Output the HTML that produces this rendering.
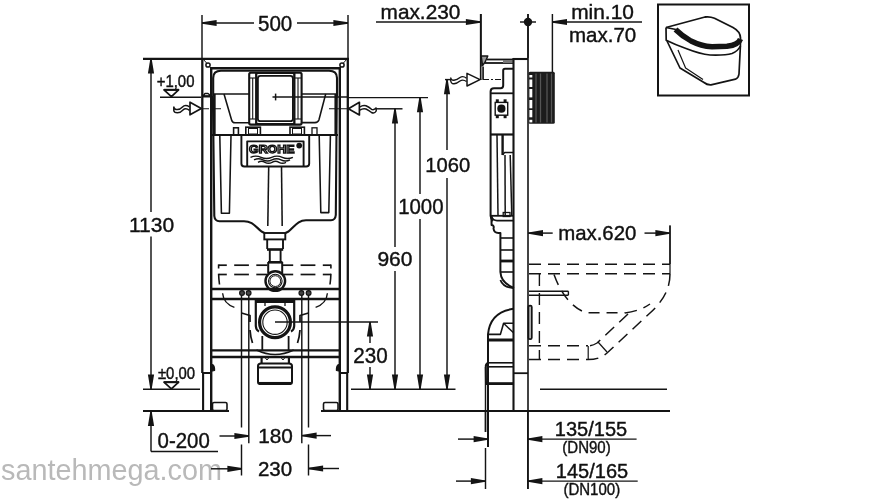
<!DOCTYPE html>
<html><head><meta charset="utf-8"><style>
html,body{margin:0;padding:0;background:#fff;width:880px;height:500px;overflow:hidden}
svg{display:block;will-change:transform}
text{font-family:"Liberation Sans",sans-serif}
</style></head><body>
<svg width="880" height="500" viewBox="0 0 880 500">
<rect width="880" height="500" fill="#fff"/>
<text x="1" y="479.8" font-size="28.8" text-anchor="start" fill="#b9b9b9" >santehmega.com</text>
<line x1="202" y1="15" x2="202" y2="59" stroke="#141414" stroke-width="1.45" />
<line x1="348" y1="15" x2="348" y2="59" stroke="#141414" stroke-width="1.45" />
<line x1="202" y1="23" x2="254" y2="23" stroke="#141414" stroke-width="1.45" />
<line x1="297" y1="23" x2="348" y2="23" stroke="#141414" stroke-width="1.45" />
<polygon points="202,22.3 216.6,19.9 216.6,26.1 202,23.7" fill="#141414"/>
<polygon points="348,22.3 333.4,19.9 333.4,26.1 348,23.7" fill="#141414"/>
<text transform="translate(275.1,31.1) scale(0.935,1)" x="0" y="0" font-size="22" text-anchor="middle" fill="#111"  stroke="#111" stroke-width="0.4">500</text>
<line x1="143" y1="58.8" x2="349" y2="58.8" stroke="#141414" stroke-width="2.2" />
<line x1="202.3" y1="58" x2="202.3" y2="373" stroke="#141414" stroke-width="2.3" />
<line x1="347.8" y1="58" x2="347.8" y2="373" stroke="#141414" stroke-width="2.3" />
<line x1="203.1" y1="373" x2="203.1" y2="411" stroke="#141414" stroke-width="2.1" />
<line x1="347.2" y1="373" x2="347.2" y2="411" stroke="#141414" stroke-width="2.1" />
<line x1="210" y1="68.2" x2="341" y2="68.2" stroke="#141414" stroke-width="2.4" />
<line x1="211.2" y1="67" x2="211.2" y2="411" stroke="#141414" stroke-width="2.4" />
<line x1="339.8" y1="67" x2="339.8" y2="411" stroke="#141414" stroke-width="2.4" />
<line x1="202" y1="373" x2="211" y2="373" stroke="#141414" stroke-width="2" />
<line x1="340" y1="373" x2="348" y2="373" stroke="#141414" stroke-width="2" />
<path d="M212.4,364.5 Q214.8,365.5 214.6,370.5 L212.4,371 Z" stroke="#141414" stroke-width="1.2" fill="#141414" stroke-linejoin="round" />
<path d="M338.6,364.5 Q336.2,365.5 336.4,370.5 L338.6,371 Z" stroke="#141414" stroke-width="1.2" fill="#141414" stroke-linejoin="round" />
<line x1="203" y1="59" x2="207" y2="63.5" stroke="#141414" stroke-width="1" />
<circle cx="208" cy="65" r="2.1" stroke="#141414" stroke-width="1.5" fill="none"/>
<line x1="347" y1="59" x2="343" y2="63.5" stroke="#141414" stroke-width="1" />
<circle cx="342" cy="65" r="2.1" stroke="#141414" stroke-width="1.5" fill="none"/>
<rect x="212.5" y="402.5" width="14.5" height="8" rx="1.5" stroke="#141414" stroke-width="1.6" fill="none"/>
<rect x="323.5" y="402.5" width="14.5" height="8" rx="1.5" stroke="#141414" stroke-width="1.6" fill="none"/>
<line x1="143" y1="411" x2="229" y2="411" stroke="#141414" stroke-width="2.2" />
<line x1="321" y1="411" x2="670" y2="411" stroke="#141414" stroke-width="2.2" />
<line x1="211" y1="289" x2="340" y2="289" stroke="#141414" stroke-width="2.3" />
<line x1="211" y1="299" x2="340" y2="299" stroke="#141414" stroke-width="2.3" />
<line x1="211" y1="350.3" x2="340" y2="350.3" stroke="#141414" stroke-width="2.3" />
<line x1="211" y1="357" x2="340" y2="357" stroke="#141414" stroke-width="2.3" />
<line x1="151" y1="59" x2="151" y2="212" stroke="#141414" stroke-width="1.45" />
<line x1="151" y1="236.5" x2="151" y2="389" stroke="#141414" stroke-width="1.45" />
<polygon points="150.3,59 147.9,73.6 154.1,73.6 151.7,59" fill="#141414"/>
<polygon points="150.3,389 147.9,374.4 154.1,374.4 151.7,389" fill="#141414"/>
<text x="151.5" y="231.7" font-size="21" text-anchor="middle" fill="#111"  stroke="#111" stroke-width="0.4">1130</text>
<text transform="translate(175.6,86.8) scale(0.95,1)" x="0" y="0" font-size="15.7" text-anchor="middle" fill="#111"  stroke="#111" stroke-width="0.4">+1,00</text>
<polygon points="164,89.8 178.6,89.8 171.4,96.6" stroke="#141414" stroke-width="1.8" fill="none" stroke-linejoin="round" />
<line x1="164" y1="89.8" x2="179" y2="89.8" stroke="#141414" stroke-width="2" />
<line x1="160" y1="97.2" x2="201" y2="97.2" stroke="#141414" stroke-width="1.45" />
<text transform="translate(176.5,379) scale(0.95,1)" x="0" y="0" font-size="15.7" text-anchor="middle" fill="#111"  stroke="#111" stroke-width="0.4">±0,00</text>
<polygon points="164,382.2 178.6,382.2 171.4,388.8" stroke="#141414" stroke-width="1.8" fill="none" stroke-linejoin="round" />
<line x1="164" y1="382.2" x2="179" y2="382.2" stroke="#141414" stroke-width="2" />
<line x1="143" y1="389.2" x2="200" y2="389.2" stroke="#141414" stroke-width="1.45" />
<polygon points="150.3,411.5 147.9,426.1 154.1,426.1 151.7,411.5" fill="#141414"/>
<line x1="151" y1="411" x2="151" y2="451.5" stroke="#141414" stroke-width="1.45" />
<line x1="151" y1="451.5" x2="218" y2="451.5" stroke="#141414" stroke-width="1.45" />
<text transform="translate(183.65,448.3) scale(0.955,1)" x="0" y="0" font-size="21.4" text-anchor="middle" fill="#111"  stroke="#111" stroke-width="0.4">0-200</text>
<line x1="219.5" y1="436" x2="249" y2="436" stroke="#141414" stroke-width="1.45" />
<polygon points="249,435.3 234.4,432.9 234.4,439.1 249,436.7" fill="#141414"/>
<line x1="211" y1="468.8" x2="242" y2="468.8" stroke="#141414" stroke-width="1.45" />
<polygon points="242,468.1 227.4,465.7 227.4,471.90000000000003 242,469.5" fill="#141414"/>
<line x1="241.5" y1="293" x2="241.5" y2="427.5" stroke="#141414" stroke-width="1.45" />
<line x1="241.5" y1="444.5" x2="241.5" y2="475.5" stroke="#141414" stroke-width="1.45" />
<line x1="248.8" y1="293" x2="248.8" y2="443.3" stroke="#141414" stroke-width="1.45" />
<line x1="301.8" y1="293" x2="301.8" y2="443.3" stroke="#141414" stroke-width="1.45" />
<line x1="308.5" y1="293" x2="308.5" y2="427.5" stroke="#141414" stroke-width="1.45" />
<line x1="308.5" y1="444.5" x2="308.5" y2="475.5" stroke="#141414" stroke-width="1.45" />
<line x1="302" y1="435.6" x2="331" y2="435.6" stroke="#141414" stroke-width="1.45" />
<polygon points="302,434.90000000000003 316.6,432.5 316.6,438.70000000000005 302,436.3" fill="#141414"/>
<line x1="308.5" y1="468.5" x2="339" y2="468.5" stroke="#141414" stroke-width="1.45" />
<polygon points="308.5,467.8 323.1,465.4 323.1,471.6 308.5,469.2" fill="#141414"/>
<text x="275.6" y="443" font-size="20.8" text-anchor="middle" fill="#111"  stroke="#111" stroke-width="0.4">180</text>
<text x="275" y="476.4" font-size="20.5" text-anchor="middle" fill="#111"  stroke="#111" stroke-width="0.4">230</text>
<line x1="275" y1="322" x2="378" y2="322" stroke="#141414" stroke-width="1.45" />
<line x1="370" y1="322" x2="370" y2="343" stroke="#141414" stroke-width="1.45" />
<line x1="370" y1="367" x2="370" y2="389" stroke="#141414" stroke-width="1.45" />
<polygon points="369.3,322 366.9,336.6 373.1,336.6 370.7,322" fill="#141414"/>
<polygon points="369.3,389 366.9,374.4 373.1,374.4 370.7,389" fill="#141414"/>
<text transform="translate(370.45,363.4) scale(0.96,1)" x="0" y="0" font-size="21.5" text-anchor="middle" fill="#111"  stroke="#111" stroke-width="0.4">230</text>
<line x1="376.5" y1="108.8" x2="402.5" y2="108.8" stroke="#141414" stroke-width="1.45" />
<line x1="395" y1="108.8" x2="395" y2="247" stroke="#141414" stroke-width="1.45" />
<line x1="395" y1="271" x2="395" y2="389" stroke="#141414" stroke-width="1.45" />
<polygon points="394.3,108.8 391.9,123.39999999999999 398.1,123.39999999999999 395.7,108.8" fill="#141414"/>
<polygon points="394.3,389 391.9,374.4 398.1,374.4 395.7,389" fill="#141414"/>
<text x="394.9" y="265.9" font-size="21" text-anchor="middle" fill="#111"  stroke="#111" stroke-width="0.4">960</text>
<line x1="348" y1="97.6" x2="428" y2="97.6" stroke="#141414" stroke-width="1.45" />
<line x1="420" y1="97.6" x2="420" y2="194" stroke="#141414" stroke-width="1.45" />
<line x1="420" y1="219" x2="420" y2="389" stroke="#141414" stroke-width="1.45" />
<polygon points="419.3,97.6 416.9,112.19999999999999 423.1,112.19999999999999 420.7,97.6" fill="#141414"/>
<polygon points="419.3,389 416.9,374.4 423.1,374.4 420.7,389" fill="#141414"/>
<text transform="translate(420.85,213.9) scale(0.95,1)" x="0" y="0" font-size="21.5" text-anchor="middle" fill="#111"  stroke="#111" stroke-width="0.4">1000</text>
<line x1="445" y1="79.6" x2="451" y2="79.6" stroke="#141414" stroke-width="1.45" />
<line x1="447" y1="79.6" x2="447" y2="150" stroke="#141414" stroke-width="1.45" />
<line x1="447" y1="178" x2="447" y2="389" stroke="#141414" stroke-width="1.45" />
<polygon points="446.3,79.6 443.9,94.19999999999999 450.1,94.19999999999999 447.7,79.6" fill="#141414"/>
<polygon points="446.3,389 443.9,374.4 450.1,374.4 447.7,389" fill="#141414"/>
<text transform="translate(447.75,172.4) scale(0.96,1)" x="0" y="0" font-size="21" text-anchor="middle" fill="#111"  stroke="#111" stroke-width="0.4">1060</text>
<line x1="351" y1="389.2" x2="455.5" y2="389.2" stroke="#141414" stroke-width="1.45" />
<line x1="540" y1="389.2" x2="667" y2="389.2" stroke="#141414" stroke-width="1.45" />
<line x1="376" y1="22" x2="480" y2="22" stroke="#141414" stroke-width="1.45" />
<polygon points="480.5,21.3 465.9,18.9 465.9,25.1 480.5,22.7" fill="#141414"/>
<line x1="480.8" y1="14" x2="480.8" y2="80" stroke="#141414" stroke-width="1.45" />
<text x="420.45" y="19.2" font-size="20.8" text-anchor="middle" fill="#111"  stroke="#111" stroke-width="0.4">max.230</text>
<line x1="528" y1="14" x2="528" y2="58" stroke="#141414" stroke-width="1.45" />
<line x1="520" y1="22" x2="536" y2="22" stroke="#141414" stroke-width="1.45" />
<circle cx="528" cy="22" r="4.2" stroke="#141414" stroke-width="0" fill="#141414"/>
<line x1="552.4" y1="14" x2="552.4" y2="72" stroke="#141414" stroke-width="1.45" />
<line x1="552.4" y1="22" x2="642" y2="22" stroke="#141414" stroke-width="1.45" />
<polygon points="552.4,21.3 567.0,18.9 567.0,25.1 552.4,22.7" fill="#141414"/>
<text transform="translate(602.55,18.9) scale(1.03,1)" x="0" y="0" font-size="20.3" text-anchor="middle" fill="#111"  stroke="#111" stroke-width="0.4">min.10</text>
<text x="602.6" y="41.5" font-size="20.5" text-anchor="middle" fill="#111"  stroke="#111" stroke-width="0.4">max.70</text>
<line x1="528" y1="233.1" x2="552.7" y2="233.1" stroke="#141414" stroke-width="1.45" />
<polygon points="528.4,232.4 543.0,230.0 543.0,236.2 528.4,233.79999999999998" fill="#141414"/>
<line x1="644.5" y1="233.1" x2="670" y2="233.1" stroke="#141414" stroke-width="1.45" />
<polygon points="670,232.4 655.4,230.0 655.4,236.2 670,233.79999999999998" fill="#141414"/>
<line x1="670" y1="225.5" x2="670" y2="264" stroke="#141414" stroke-width="1.45" />
<text transform="translate(597.25,240.4) scale(1.015,1)" x="0" y="0" font-size="20.1" text-anchor="middle" fill="#111"  stroke="#111" stroke-width="0.4">max.620</text>
<line x1="485.5" y1="411" x2="485.5" y2="432" stroke="#141414" stroke-width="1.45" />
<line x1="488.2" y1="411" x2="488.2" y2="447" stroke="#141414" stroke-width="1.45" />
<line x1="485.5" y1="448" x2="485.5" y2="489" stroke="#141414" stroke-width="1.45" />
<line x1="527.8" y1="411" x2="527.8" y2="489" stroke="#141414" stroke-width="1.45" />
<line x1="458" y1="439.1" x2="488" y2="439.1" stroke="#141414" stroke-width="1.45" />
<polygon points="488.2,438.40000000000003 473.59999999999997,436.0 473.59999999999997,442.20000000000005 488.2,439.8" fill="#141414"/>
<line x1="528" y1="439.1" x2="636.6" y2="439.1" stroke="#141414" stroke-width="1.45" />
<polygon points="527.8,438.40000000000003 542.4,436.0 542.4,442.20000000000005 527.8,439.8" fill="#141414"/>
<line x1="456" y1="481.1" x2="485.5" y2="481.1" stroke="#141414" stroke-width="1.45" />
<polygon points="485.5,480.40000000000003 470.9,478.0 470.9,484.20000000000005 485.5,481.8" fill="#141414"/>
<line x1="528" y1="481.1" x2="637.7" y2="481.1" stroke="#141414" stroke-width="1.45" />
<polygon points="527.8,480.40000000000003 542.4,478.0 542.4,484.20000000000005 527.8,481.8" fill="#141414"/>
<text x="591" y="435.7" font-size="20" text-anchor="middle" fill="#111"  stroke="#111" stroke-width="0.4">135/155</text>
<text transform="translate(586.5,453.1) scale(0.87,1)" x="0" y="0" font-size="17.3" text-anchor="middle" fill="#111"  stroke="#111" stroke-width="0.4">(DN90)</text>
<text x="592" y="477.7" font-size="20" text-anchor="middle" fill="#111"  stroke="#111" stroke-width="0.4">145/165</text>
<text transform="translate(591.8,495.1) scale(0.87,1)" x="0" y="0" font-size="17.3" text-anchor="middle" fill="#111"  stroke="#111" stroke-width="0.4">(DN100)</text>
<rect x="658" y="4.5" width="91" height="91" rx="0" stroke="#141414" stroke-width="2" fill="none"/>
<path d="M213.2,96 L213.2,78 Q213.2,70.8 221,70.8 L329,70.8 Q337,70.8 337,78 L337,96" stroke="#141414" stroke-width="2.1" fill="none" stroke-linejoin="round" />
<path d="M212.9,96 L214.3,216 Q214.8,221.2 219.5,221.2 L244,221.2 C252,221.2 255,226 261.5,231.5 L264.5,233" stroke="#141414" stroke-width="2.1" fill="none" stroke-linejoin="round" />
<path d="M336.8,96 L335.8,215 Q335.3,220.2 331,220.2 L306,220.2 C298,220.2 295,226 288.5,231.5 L285.5,233" stroke="#141414" stroke-width="2.1" fill="none" stroke-linejoin="round" />
<line x1="213" y1="94" x2="249.6" y2="94" stroke="#141414" stroke-width="1.68" />
<line x1="301" y1="94" x2="336.5" y2="94" stroke="#141414" stroke-width="1.68" />
<line x1="214.8" y1="94" x2="214.8" y2="135" stroke="#141414" stroke-width="1.74" />
<line x1="335.3" y1="94" x2="335.3" y2="135" stroke="#141414" stroke-width="1.74" />
<path d="M224,94 L231.6,120 Q232.4,122.8 235,122.8 L249.5,122.8" stroke="#141414" stroke-width="1.56" fill="none" stroke-linejoin="round" />
<path d="M325.7,94 L318.9,120 Q318,122.6 315,122.6 L301,122.6" stroke="#141414" stroke-width="1.56" fill="none" stroke-linejoin="round" />
<line x1="203" y1="108.8" x2="221.2" y2="108.8" stroke="#141414" stroke-width="1.1" stroke-dasharray="6,2,2,2" stroke-dashoffset="0"/>
<line x1="329" y1="108.8" x2="347" y2="108.8" stroke="#141414" stroke-width="1.1" stroke-dasharray="6,2,2,2" stroke-dashoffset="0"/>
<path d="M203,96 L205,93.5 L208,93.5 L211,96 L203,96 Z" stroke="#141414" stroke-width="1.44" fill="none" stroke-linejoin="round" />
<line x1="203" y1="96.5" x2="211" y2="96.5" stroke="#141414" stroke-width="2" />
<rect x="249.2" y="72.8" width="52.4" height="51.8" rx="1.5" stroke="#141414" stroke-width="2.1" fill="none"/>
<line x1="256.2" y1="73" x2="256.2" y2="124.5" stroke="#141414" stroke-width="2.2" />
<line x1="294.4" y1="73" x2="294.4" y2="124.5" stroke="#141414" stroke-width="2.2" />
<line x1="252.7" y1="78" x2="252.7" y2="119" stroke="#141414" stroke-width="1.1" />
<line x1="298" y1="78" x2="298" y2="119" stroke="#141414" stroke-width="1.1" />
<line x1="249.5" y1="78" x2="256" y2="78" stroke="#141414" stroke-width="1.1" />
<line x1="249.5" y1="119" x2="256" y2="119" stroke="#141414" stroke-width="1.1" />
<line x1="294.5" y1="78" x2="301.5" y2="78" stroke="#141414" stroke-width="1.1" />
<line x1="294.5" y1="119" x2="301.5" y2="119" stroke="#141414" stroke-width="1.1" />
<rect x="256.4" y="73.4" width="37.8" height="50.3" rx="1" stroke="#141414" stroke-width="1.3" fill="none"/>
<rect x="257.9" y="75.9" width="35" height="45.3" rx="2.5" stroke="#141414" stroke-width="1.8" fill="none"/>
<line x1="272.5" y1="97" x2="348" y2="97" stroke="#141414" stroke-width="1.5" />
<line x1="275.6" y1="93.6" x2="275.6" y2="100.4" stroke="#141414" stroke-width="1.5" />
<rect x="233.6" y="127.8" width="4.8" height="7.2" rx="0" stroke="#141414" stroke-width="1.56" fill="none"/>
<rect x="245.8" y="127.2" width="14.6" height="7.8" rx="0" stroke="#141414" stroke-width="1.6" fill="none"/>
<rect x="248.5" y="128.5" width="9" height="5.5" rx="0" stroke="#141414" stroke-width="1" fill="none"/>
<rect x="290" y="127.2" width="14.4" height="7.8" rx="0" stroke="#141414" stroke-width="1.6" fill="none"/>
<rect x="292.5" y="128.5" width="9" height="5.5" rx="0" stroke="#141414" stroke-width="1" fill="none"/>
<rect x="312" y="127.8" width="5" height="7.2" rx="0" stroke="#141414" stroke-width="1.3" fill="none"/>
<line x1="211" y1="135" x2="338" y2="135" stroke="#141414" stroke-width="2.16" />
<polyline points="219.8,135.5 221.4,213.3 229.4,213.3 231,135.5" stroke="#141414" stroke-width="1.56" fill="none" stroke-linejoin="round" />
<polyline points="319.2,135.5 320.8,212.6 328.8,212.6 330.4,135.5" stroke="#141414" stroke-width="1.56" fill="none" stroke-linejoin="round" />
<path d="M241.4,135.5 L241.4,163.5 Q241.4,166.5 244.4,166.5 L306.2,166.5 Q309.2,166.5 309.2,163.5 L309.2,135.5" stroke="#141414" stroke-width="1.92" fill="none" stroke-linejoin="round" />
<polyline points="247.2,166.3 247.2,141.4 303.6,141.4 303.6,166.3" stroke="#141414" stroke-width="1.92" fill="none" stroke-linejoin="round" />
<text x="249" y="153" font-size="11" font-weight="bold" fill="#fff" stroke="#111" stroke-width="1.25" textLength="45.5" lengthAdjust="spacingAndGlyphs" style="font-family:'Liberation Sans',sans-serif">GROHE</text>
<circle cx="299.2" cy="145.6" r="2.9" stroke="#141414" stroke-width="0" fill="#141414"/>
<path d="M250.5,157.3 q5.3,-2.4 10.6,0 t10.6,0 t10.6,0 t10.6,0" stroke="#141414" stroke-width="1.4" fill="none" stroke-linejoin="round" />
<path d="M254,159.9 q4.5,-2.2 9,0 t9,0 t9,0 t9,0" stroke="#141414" stroke-width="1.4" fill="none" stroke-linejoin="round" />
<path d="M258,162.3 q3.5,-2 7,0 t7,0 t7,0 t7,0" stroke="#141414" stroke-width="1.4" fill="none" stroke-linejoin="round" />
<line x1="268.7" y1="166.5" x2="267.8" y2="226" stroke="#141414" stroke-width="1.56" />
<line x1="281.5" y1="166.5" x2="282.2" y2="226" stroke="#141414" stroke-width="1.56" />
<rect x="264.3" y="233" width="21" height="6.4" rx="0" stroke="#141414" stroke-width="1.9" fill="none"/>
<line x1="267.2" y1="239" x2="267.2" y2="249" stroke="#141414" stroke-width="1.9" />
<line x1="283" y1="239" x2="283" y2="249" stroke="#141414" stroke-width="1.9" />
<line x1="267" y1="249.5" x2="283.2" y2="249.5" stroke="#141414" stroke-width="2.6" />
<line x1="269.8" y1="250" x2="269.8" y2="261" stroke="#141414" stroke-width="1.9" />
<line x1="280.6" y1="250" x2="280.6" y2="261" stroke="#141414" stroke-width="1.9" />
<line x1="268" y1="262.3" x2="282.5" y2="262.3" stroke="#141414" stroke-width="2.6" />
<line x1="268.2" y1="262" x2="268.2" y2="273" stroke="#141414" stroke-width="2" />
<line x1="282.2" y1="262" x2="282.2" y2="273" stroke="#141414" stroke-width="2" />
<circle cx="275.3" cy="281.1" r="9.8" stroke="#141414" stroke-width="2.4" fill="none"/>
<circle cx="275.3" cy="281.1" r="6.8" stroke="#141414" stroke-width="1.1" fill="none"/>
<circle cx="275.3" cy="281.1" r="5.4" stroke="#141414" stroke-width="1" fill="none"/>
<line x1="218.6" y1="265.2" x2="226.8" y2="265.2" stroke="#141414" stroke-width="1.7" />
<line x1="218.6" y1="274.5" x2="226.8" y2="274.5" stroke="#141414" stroke-width="1.7" />
<line x1="234.2" y1="265.2" x2="248.9" y2="265.2" stroke="#141414" stroke-width="1.7" />
<line x1="234.2" y1="274.5" x2="248.9" y2="274.5" stroke="#141414" stroke-width="1.7" />
<line x1="256.3" y1="265.2" x2="267.4" y2="265.2" stroke="#141414" stroke-width="1.7" />
<line x1="256.3" y1="274.5" x2="267.4" y2="274.5" stroke="#141414" stroke-width="1.7" />
<line x1="282.9" y1="265.2" x2="293.2" y2="265.2" stroke="#141414" stroke-width="1.7" />
<line x1="282.9" y1="274.5" x2="293.2" y2="274.5" stroke="#141414" stroke-width="1.7" />
<line x1="300.6" y1="265.2" x2="315.4" y2="265.2" stroke="#141414" stroke-width="1.7" />
<line x1="300.6" y1="274.5" x2="315.4" y2="274.5" stroke="#141414" stroke-width="1.7" />
<line x1="322.8" y1="265.2" x2="330.9" y2="265.2" stroke="#141414" stroke-width="1.7" />
<line x1="322.8" y1="274.5" x2="330.9" y2="274.5" stroke="#141414" stroke-width="1.7" />
<line x1="218.6" y1="264.4" x2="218.6" y2="268.5" stroke="#141414" stroke-width="1.6" />
<path d="M218.6,273.7 L218.9,279 L219.5,284.5" stroke="#141414" stroke-width="1.6" fill="none" stroke-linejoin="round" />
<line x1="330.9" y1="264.4" x2="330.9" y2="268.5" stroke="#141414" stroke-width="1.6" />
<path d="M330.9,273.7 L330.6,279 L330,284.5" stroke="#141414" stroke-width="1.6" fill="none" stroke-linejoin="round" />
<circle cx="242" cy="293" r="2.4" stroke="#141414" stroke-width="1.2" fill="#444"/>
<circle cx="248.6" cy="293" r="2.4" stroke="#141414" stroke-width="1.2" fill="#444"/>
<circle cx="301.4" cy="293" r="2.4" stroke="#141414" stroke-width="1.2" fill="#444"/>
<circle cx="308.6" cy="293" r="2.4" stroke="#141414" stroke-width="1.2" fill="#444"/>
<path d="M222.6,293.3 Q223.5,303.7 234.4,307.3" stroke="#141414" stroke-width="1.4" fill="none" stroke-linejoin="round" />
<path d="M327.4,293.3 Q326.5,303.7 315.6,307.3" stroke="#141414" stroke-width="1.4" fill="none" stroke-linejoin="round" />
<polyline points="241.5,313 250,315.5 250,322" stroke="#141414" stroke-width="1.74" fill="none" stroke-linejoin="round" />
<path d="M250,330 Q250.5,337 252.5,343" stroke="#141414" stroke-width="1.74" fill="none" stroke-linejoin="round" />
<polyline points="308.5,313 300,315.5 300,322" stroke="#141414" stroke-width="1.74" fill="none" stroke-linejoin="round" />
<path d="M300,330 Q299.5,337 297.5,343" stroke="#141414" stroke-width="1.74" fill="none" stroke-linejoin="round" />
<path d="M255.8,299 L255.8,326 Q256,330 259,331.5 M294.2,299 L294.2,326 Q294,330 291,331.5" stroke="#141414" stroke-width="2.2" fill="none" stroke-linejoin="round" />
<line x1="255.8" y1="301.2" x2="294.2" y2="301.2" stroke="#141414" stroke-width="3.6" />
<line x1="265" y1="303" x2="265" y2="306" stroke="#141414" stroke-width="1.3" />
<line x1="285" y1="303" x2="285" y2="306" stroke="#141414" stroke-width="1.3" />
<circle cx="275" cy="322.2" r="15.4" stroke="#141414" stroke-width="3.2" fill="none"/>
<circle cx="275" cy="322.2" r="12.2" stroke="#141414" stroke-width="1.1" fill="none"/>
<line x1="262.3" y1="336" x2="262.3" y2="350" stroke="#141414" stroke-width="1.8" />
<line x1="288.6" y1="336" x2="288.6" y2="350" stroke="#141414" stroke-width="1.8" />
<path d="M256.5,350 Q275,359 293.7,350" stroke="#141414" stroke-width="1.4" fill="none" stroke-linejoin="round" />
<line x1="261.6" y1="357" x2="261.6" y2="364" stroke="#141414" stroke-width="2.16" />
<line x1="288.9" y1="357" x2="288.9" y2="364" stroke="#141414" stroke-width="2.16" />
<polyline points="265,357.5 267,360 269,357.5" stroke="#141414" stroke-width="1" fill="none" stroke-linejoin="round" />
<polyline points="281,357.5 283,360 285,357.5" stroke="#141414" stroke-width="1" fill="none" stroke-linejoin="round" />
<path d="M258,366 Q258,363.5 261,363.5 L289,363.5 Q292,363.5 292,366 L292,382 Q292,384 290,384 L260,384 Q258,384 258,382 Z" stroke="#141414" stroke-width="2" fill="none" stroke-linejoin="round" />
<line x1="258" y1="367.5" x2="292" y2="367.5" stroke="#141414" stroke-width="1.92" />
<line x1="259" y1="383.4" x2="291" y2="383.4" stroke="#141414" stroke-width="2.88" />
<line x1="480.8" y1="14" x2="480.8" y2="80" stroke="#141414" stroke-width="1.9" />
<rect x="481" y="66.5" width="2" height="13" rx="0" stroke="#141414" stroke-width="0" fill="#888"/>
<line x1="483.2" y1="66.5" x2="483.2" y2="80" stroke="#141414" stroke-width="1.4" />
<polygon points="481.2,56 487.8,56 485.2,62 482.6,65.5" stroke="#141414" stroke-width="1.4" fill="#999" stroke-linejoin="round" />
<line x1="487" y1="59.5" x2="513.5" y2="59.5" stroke="#141414" stroke-width="1.8" />
<line x1="485" y1="63" x2="513.5" y2="63" stroke="#141414" stroke-width="1.8" />
<rect x="503" y="60" width="10.5" height="3" rx="0" stroke="#141414" stroke-width="0" fill="#777"/>
<line x1="483" y1="79.5" x2="503" y2="79.5" stroke="#141414" stroke-width="1.1" stroke-dasharray="6,2,2,2" stroke-dashoffset="0"/>
<polygon points="480,79.6 467,73.4 467,86" stroke="#141414" stroke-width="1.5" fill="none" stroke-linejoin="round" />
<path d="M450.6,77.5 Q451,80.5 454,80.3 Q457,80 460,77.5 Q463,75.5 466.5,78.2" stroke="#141414" stroke-width="1.4" fill="none" stroke-linejoin="round" />
<path d="M450.6,80 Q451,84 454,83.8 Q457,83.5 460,81 Q463,79 466.5,81.5" stroke="#141414" stroke-width="1.4" fill="none" stroke-linejoin="round" />
<line x1="513.5" y1="58.5" x2="513.5" y2="411" stroke="#141414" stroke-width="2.1" />
<line x1="512.5" y1="59" x2="528" y2="59" stroke="#141414" stroke-width="2.1" />
<line x1="528" y1="14" x2="528" y2="489" stroke="#141414" stroke-width="1.6" />
<line x1="514" y1="373.2" x2="528" y2="373.2" stroke="#141414" stroke-width="1.8" />
<path d="M513.5,68.8 L505,68.8 Q503.2,68.8 503.2,70.6 L503.2,85.6 Q503.2,88.2 500.6,88.2 L494,88.2 Q490.6,88.2 490.6,91.6 L490.6,216 Q491,219.5 493,221" stroke="#141414" stroke-width="2" fill="none" stroke-linejoin="round" />
<line x1="490.6" y1="93.3" x2="513.5" y2="93.3" stroke="#141414" stroke-width="1.8" />
<rect x="495.2" y="102.4" width="12.5" height="12.8" rx="0" stroke="#141414" stroke-width="1.4" fill="none"/>
<circle cx="501.4" cy="108.7" r="4.1" stroke="#141414" stroke-width="0" fill="#141414"/>
<rect x="495.8" y="99.3" width="3" height="3" rx="0" stroke="#141414" stroke-width="0" fill="#141414"/>
<rect x="503.6" y="99.3" width="3" height="3" rx="0" stroke="#141414" stroke-width="0" fill="#141414"/>
<rect x="495.8" y="115.2" width="3" height="3" rx="0" stroke="#141414" stroke-width="0" fill="#141414"/>
<rect x="503.6" y="115.2" width="3" height="3" rx="0" stroke="#141414" stroke-width="0" fill="#141414"/>
<rect x="528.5" y="71.8" width="26.3" height="52" rx="1.5" stroke="#141414" stroke-width="0" fill="#1c1c1c"/>
<rect x="529.4" y="75" width="2.9" height="2.5" rx="0" stroke="#141414" stroke-width="0" fill="#fff"/>
<rect x="529.4" y="79.5" width="2.9" height="7.5" rx="0" stroke="#141414" stroke-width="0" fill="#fff"/>
<rect x="529.4" y="89" width="2.9" height="8.400000000000006" rx="0" stroke="#141414" stroke-width="0" fill="#fff"/>
<rect x="529.4" y="100" width="2.9" height="8.299999999999997" rx="0" stroke="#141414" stroke-width="0" fill="#fff"/>
<rect x="529.4" y="110" width="2.9" height="7.299999999999997" rx="0" stroke="#141414" stroke-width="0" fill="#fff"/>
<rect x="529.4" y="119.8" width="2.9" height="2.6000000000000085" rx="0" stroke="#141414" stroke-width="0" fill="#fff"/>
<line x1="536" y1="73.5" x2="536" y2="122.5" stroke="#555" stroke-width="1.3" />
<line x1="540.5" y1="73.5" x2="540.5" y2="122.5" stroke="#555" stroke-width="1.3" />
<line x1="547" y1="73.5" x2="547" y2="122.5" stroke="#555" stroke-width="1.3" />
<line x1="551.5" y1="73.5" x2="551.5" y2="122.5" stroke="#555" stroke-width="1.3" />
<line x1="490.6" y1="134.5" x2="513.5" y2="134.5" stroke="#141414" stroke-width="2.2" />
<line x1="497" y1="134.5" x2="498" y2="215.8" stroke="#141414" stroke-width="1.5" />
<line x1="502.6" y1="134.5" x2="502.6" y2="155" stroke="#141414" stroke-width="2.4" />
<polyline points="502.6,155 504.5,152.6 513,152.6" stroke="#141414" stroke-width="1.5" fill="none" stroke-linejoin="round" />
<line x1="505" y1="155" x2="505.2" y2="215.8" stroke="#141414" stroke-width="1.5" />
<line x1="510.2" y1="155" x2="511.8" y2="215.8" stroke="#141414" stroke-width="1.5" />
<line x1="490.6" y1="215.8" x2="513.5" y2="215.8" stroke="#141414" stroke-width="1.8" />
<path d="M491.6,216.5 Q493,220.6 497,220.6 L513.5,220.6" stroke="#141414" stroke-width="1.6" fill="none" stroke-linejoin="round" />
<rect x="503.2" y="212.5" width="6.8" height="4" rx="0" stroke="#141414" stroke-width="1.3" fill="none"/>
<path d="M491.4,216 L491.6,225 Q494.5,225.5 493.5,228.5 Q494,232.8 498.4,233 L500.4,233 L500.4,272 Q501,283 514,288" stroke="#141414" stroke-width="2" fill="none" stroke-linejoin="round" />
<line x1="500.4" y1="238" x2="513.5" y2="238" stroke="#141414" stroke-width="1.6" />
<line x1="500.4" y1="250" x2="513.5" y2="250" stroke="#141414" stroke-width="1.6" />
<line x1="500.4" y1="261" x2="513.5" y2="261" stroke="#141414" stroke-width="2.8" />
<line x1="500.4" y1="272" x2="513.5" y2="272" stroke="#141414" stroke-width="1.6" />
<path d="M500.4,280 Q503,287.5 513.5,288" stroke="#141414" stroke-width="1.8" fill="none" stroke-linejoin="round" />
<path d="M513.5,308.8 Q490,312 488,334.4 L488,447" stroke="#141414" stroke-width="2" fill="none" stroke-linejoin="round" />
<polyline points="488,334.4 500.4,334.4 503.6,323.2 513.5,323.2" stroke="#141414" stroke-width="1.6" fill="none" stroke-linejoin="round" />
<line x1="503.6" y1="323.2" x2="513.5" y2="332.8" stroke="#141414" stroke-width="1.4" />
<line x1="488" y1="340" x2="513.5" y2="340" stroke="#141414" stroke-width="3" />
<line x1="488" y1="362.8" x2="513.5" y2="362.8" stroke="#141414" stroke-width="1.6" />
<line x1="488" y1="366.8" x2="513.5" y2="366.8" stroke="#141414" stroke-width="1.6" />
<line x1="486" y1="383.6" x2="513.5" y2="383.6" stroke="#141414" stroke-width="2.8" />
<path d="M488,363 Q485.5,364 485.8,367 L486,383.6" stroke="#141414" stroke-width="2" fill="none" stroke-linejoin="round" />
<line x1="485.5" y1="367" x2="485.5" y2="432" stroke="#141414" stroke-width="1.45" />
<rect x="528.4" y="305.6" width="3.4" height="33.6" rx="1.5" stroke="#141414" stroke-width="1.7" fill="#bbb"/>
<line x1="529" y1="291.2" x2="568.4" y2="291.2" stroke="#141414" stroke-width="1.4" />
<line x1="529" y1="295.2" x2="568.4" y2="295.2" stroke="#141414" stroke-width="1.4" />
<line x1="568.4" y1="291.2" x2="568.4" y2="295.2" stroke="#141414" stroke-width="1.4" />
<line x1="529" y1="264.2" x2="670" y2="264.2" stroke="#141414" stroke-width="1.5" stroke-dasharray="12,7" stroke-dashoffset="0"/>
<line x1="529" y1="273.8" x2="670" y2="273.8" stroke="#141414" stroke-width="1.5" stroke-dasharray="12,7" stroke-dashoffset="0"/>
<line x1="670" y1="225.5" x2="670" y2="274" stroke="#141414" stroke-width="1.2" stroke-dasharray="6,0" stroke-dashoffset="0"/>
<line x1="539.4" y1="274" x2="539.4" y2="360" stroke="#141414" stroke-width="1.4" stroke-dasharray="12,7" stroke-dashoffset="0"/>
<line x1="529" y1="345.8" x2="588" y2="345.8" stroke="#141414" stroke-width="1.5" stroke-dasharray="12,7" stroke-dashoffset="0"/>
<line x1="529" y1="359.6" x2="588" y2="359.6" stroke="#141414" stroke-width="1.5" stroke-dasharray="12,7" stroke-dashoffset="0"/>
<line x1="588.2" y1="346" x2="588.2" y2="359" stroke="#141414" stroke-width="1.2" />
<path d="M554,274.5 Q565,305 586,312.8 L625,312.8" stroke="#141414" stroke-width="1.5" fill="none" stroke-linejoin="round" stroke-dasharray="11,7"/>
<path d="M670,274 C670,290 662,302 650,313 L607,353 Q600,359.6 588,359.6" stroke="#141414" stroke-width="1.5" fill="none" stroke-linejoin="round" stroke-dasharray="12,7"/>
<path d="M625,313 Q640,311 650,304 M628,314 L597,343 Q593,345.8 588,345.8" stroke="#141414" stroke-width="1.5" fill="none" stroke-linejoin="round" stroke-dasharray="12,7"/>
<line x1="598" y1="342" x2="607" y2="352" stroke="#141414" stroke-width="1.2" />
<path d="M666,27.5 L705,17 Q710,16.3 714.5,18.3 L733,27.5 Q740.3,31.5 740.5,38" stroke="#141414" stroke-width="1.8" fill="none" stroke-linejoin="round" />
<path d="M675.5,29.5 Q682,36 691,41 Q701,46 712,46.8 L727,46.3 Q738.5,44.8 740.5,39" stroke="#141414" stroke-width="5.4" fill="none" stroke-linejoin="round" />
<path d="M666,27.5 L676,29.5" stroke="#141414" stroke-width="1.6" fill="none" stroke-linejoin="round" />
<path d="M666,27.5 L666.2,40.2 Q676,45 686,48.5 Q700,54 710,55 Q725,55.5 732,53.5 Q738,51 740.4,46 L740.5,38" stroke="#141414" stroke-width="1.7" fill="none" stroke-linejoin="round" />
<path d="M667,41 L680,68 L704,82.5 Q707,85 711,84.8 L735.5,79.2 Q738.5,78 739,74 L740.4,46" stroke="#141414" stroke-width="1.7" fill="none" stroke-linejoin="round" />
<path d="M678,50 L685.6,68 L703,79.5" stroke="#141414" stroke-width="1.2" fill="none" stroke-linejoin="round" />
<polygon points="201.3,108.6 190,102.2 190,114.8" stroke="#141414" stroke-width="1.7" fill="none" stroke-linejoin="round" />
<path d="M173.8,106.6 Q174,109.6 177.5,109.6 Q180,109.6 182.5,107 Q185,104.3 189.5,106.8 M173.8,106.6 L173.8,110.5 Q174,112.8 177.5,112.8 Q180.5,112.8 183,110 Q185.5,107.5 189.5,110.3" stroke="#141414" stroke-width="1.5" fill="none" stroke-linejoin="round" />
<polygon points="348.4,108.8 359.4,102.3 359.4,115" stroke="#141414" stroke-width="1.7" fill="none" stroke-linejoin="round" />
<path d="M359.8,107 Q363,104.8 366,105.8 Q369,107 371.5,109.3 Q374,110.6 376.2,107.6 M359.8,110.2 Q363,108 366,109 Q369,110.5 371.5,112.5 Q374.5,114 376.2,111 L376.2,107.6" stroke="#141414" stroke-width="1.5" fill="none" stroke-linejoin="round" />
</svg>
</body></html>
